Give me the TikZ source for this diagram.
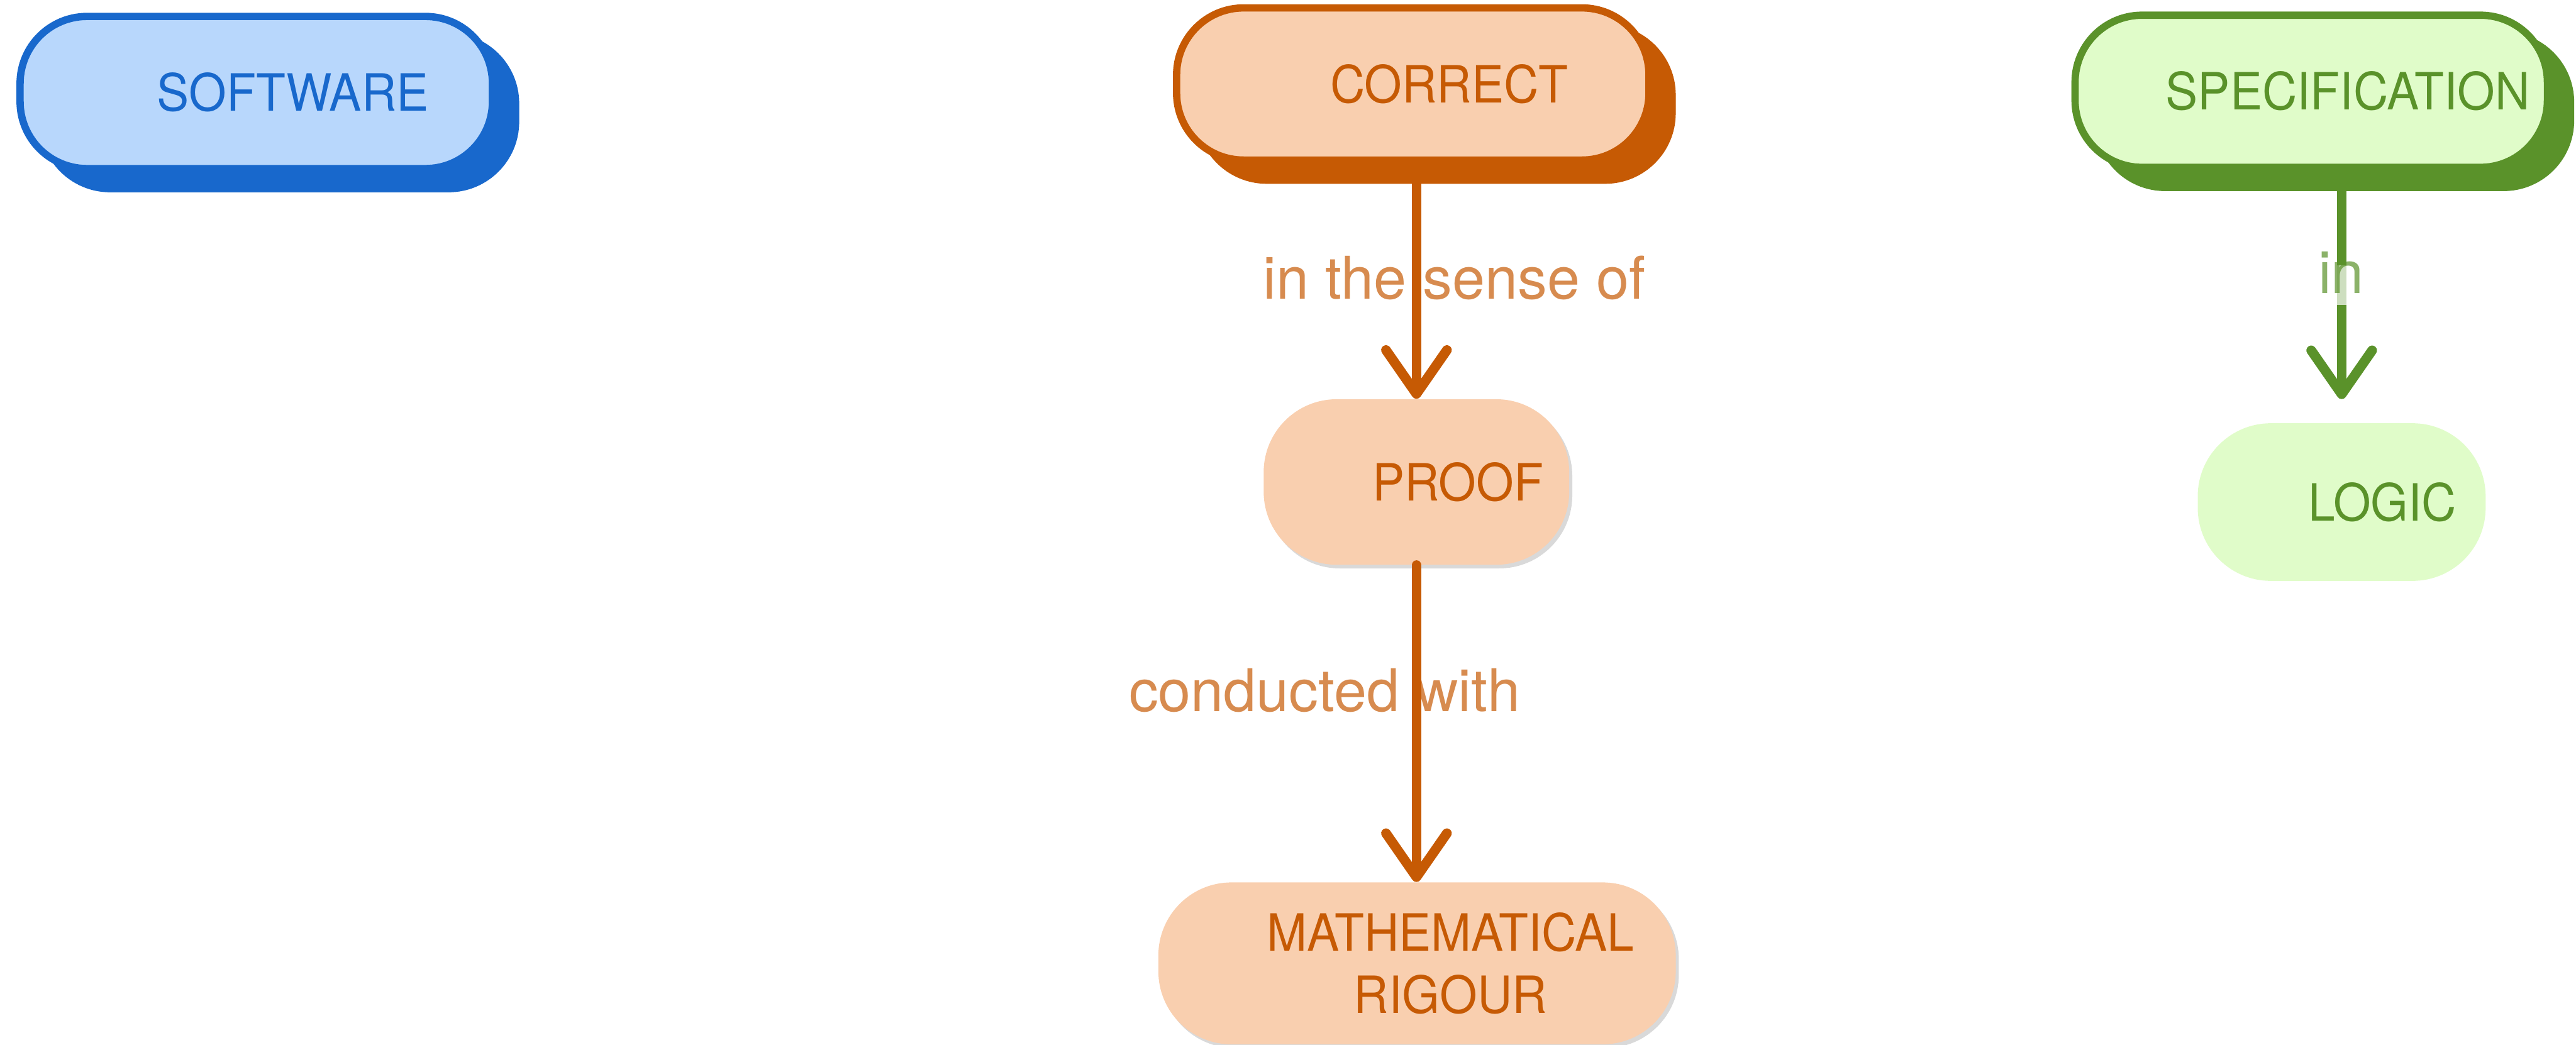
\documentclass[tikz,border=0pt]{standalone}
\usepackage{fontspec}
\setmainfont{TeX Gyre Heros}
\newfontfamily\boxfont[FakeStretch=0.94]{TeX Gyre Heros}
\usetikzlibrary{arrows.meta,shadows}

\definecolor{swline}{HTML}{1868CC}
\definecolor{swfill}{HTML}{B8D7FC}
\definecolor{orline}{HTML}{C65A04}
\definecolor{orfill}{HTML}{F9CFAF}
\definecolor{grline}{HTML}{5A922A}
\definecolor{grfill}{HTML}{E0FCC9}

\newcommand{\lpad}[1][1.2cm]{\hspace*{#1}}

\begin{document}
\begin{tikzpicture}[
  every node/.style={font=\boxfont\fontsize{24}{29}\selectfont},
  topic/.style={rectangle,rounded corners=1.1cm,line width=0.12cm,
    minimum width=7.76cm,minimum height=2.5cm,inner sep=0pt,
    draw=#1line,fill=#1fill,text=#1line,
    general shadow={shadow xshift=0.38cm,shadow yshift=-0.33cm,
      fill=#1line,draw=#1line}},
  idea/.style={rectangle,rounded corners=1.2cm,inner sep=0pt,
    fill=#1fill,text=#1line},
  lift/.style={drop shadow={shadow xshift=0.05cm,shadow yshift=-0.06cm,
    opacity=0.3}},
  link/.style={line width=0.16cm,draw=#1line,line cap=round,
    -{Straight Barb[length=0.72cm,width=1.0cm,round]}},
  linklabel/.style={font=\fontsize{27.5}{33}\selectfont,text=#1line,
    text opacity=0.7,inner sep=0pt}]
  \useasboundingbox (0,0) rectangle (42.32,-17.17);

  % top row: each topic has a solid offset copy behind it
  \node[topic=sw] (software) at (4.21,-1.52) {\lpad SOFTWARE};
  \node[topic=or] (correct) at (23.21,-1.38) {\lpad CORRECT};
  \node[topic=gr] (spec) at (37.97,-1.50) {\lpad SPECIFICATION};

  \node[idea=or,lift,minimum width=5.02cm,minimum height=2.72cm]
    (proof) at (23.27,-7.92) {\lpad[1.14cm] PROOF};
  \node[idea=or,lift,minimum width=8.5cm,minimum height=2.66cm,align=center]
    (rigour) at (23.28,-15.83) {\lpad[0.88cm] MATHEMATICAL\\\lpad[0.88cm] RIGOUR};
  \node[idea=gr,minimum width=4.73cm,minimum height=2.59cm]
    (logic) at (38.47,-8.25) {\lpad[1.12cm] LOGIC};

  % the arrows leave from the bottom of the offset copy
  \coordinate (correctfoot) at ([yshift=-0.33cm]correct.south);
  \coordinate (specfoot) at ([yshift=-0.33cm]spec.south);

  \node[linklabel=or,anchor=base] (sense) at (23.89,-4.91) {in the sense of};
  \node[linklabel=or,anchor=base] (with) at (21.76,-11.69) {conducted with};
  \draw[link=or] (correctfoot -| proof.north) -- (proof.north);
  \draw[link=or] (proof.south) -- (proof.south |- rigour.north);
  \draw[link=gr,shorten >=0.39cm] (specfoot -| logic.north) -- (logic.north);
  \node[linklabel=gr,anchor=base,fill=white,fill opacity=0.7,
    text height=1em,text depth=0.25em,inner ysep=3pt,inner xsep=2pt]
    (inlabel) at (38.46,-4.82) {in};
\end{tikzpicture}
\end{document}
